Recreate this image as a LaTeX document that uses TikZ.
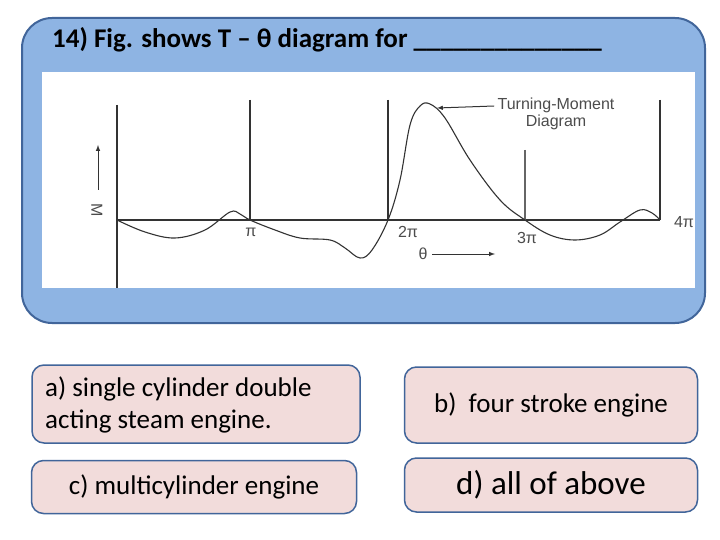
\documentclass[tikz,border=0pt]{standalone}
\usepackage{fontspec}
\setmainfont{Carlito}
\setsansfont{Liberation Sans}
\begin{document}
\begin{tikzpicture}[x=1pt,y=-1pt,
  opt/.style={draw=boxblue,line width=1.5pt,fill=optpink,rounded corners=12pt},
  vl/.style={line width=1.3pt,black!80},
  lab/.style={font=\sffamily\fontsize{16}{17}\selectfont,text=black!70}]
\definecolor{boxblue}{HTML}{41659A}
\definecolor{topblue}{HTML}{8EB4E3}
\definecolor{optpink}{HTML}{F2DCDB}
\useasboundingbox (0,0) rectangle (720,540);
\fill[white] (0,0) rectangle (720,540);
\draw[draw=boxblue,line width=2pt,fill=topblue,rounded corners=30pt] (22,18) rectangle (705,323);
\node[anchor=west,font=\bfseries\fontsize{27}{30}\selectfont,inner sep=0pt] (title) at (52,40) {14) Fig. shows T -- θ diagram for \_\_\_\_\_\_\_\_\_\_\_\_\_\_};
\fill[white] (42,72) rectangle (695,288);
% axes
\draw[vl] (117,105) -- (117,288);
\draw[vl] (117,220) -- (660,220);
\draw[vl] (250,100) -- (250,220);
\draw[vl] (388,100) -- (388,220);
\draw[vl,black!60] (525,150) -- (525,220);
\draw[vl] (660,100) -- (660,220);
\node[lab] (p1) at (251,232) {π};
\node[lab] (p2) at (408,232) {2π};
\node[lab] (p3) at (527,238) {3π};
\node[lab] (p4) at (684,222) {4π};
\coordinate (ma) at (98,190); \coordinate (mb) at (98,145);
\draw[-latex,line width=1pt,black!80] (ma) -- (mb);
\node[lab,rotate=-90] (M) at (97,210) {M};
\node[lab] (th) at (423,254) {θ};
\coordinate (tha) at (432,254); \coordinate (thb) at (495,254);
\draw[-latex,line width=1pt,black!80] (tha) -- (thb);
\node[lab,align=center] (tm) at (556,114) {Turning-Moment\\Diagram};
\coordinate (pk) at (437,108);
\draw[-latex,line width=1pt,black!80] (tm.west) ++(0,-8) -- (pk);
\draw[line width=1.1pt,black!80] plot[smooth,tension=0.6] coordinates {
 (117,220) (145,232) (175,238) (205,230) (230,212) (240,214) (250,220) (275,230) (300,238) (330,240)
 (345,248) (360,258) (372,250) (388,220) (400,180) (410,125) (420,106) (430,104) (445,118) (470,160)
 (500,200) (525,220) (550,235) (575,240) (600,235) (620,222) (640,210) (652,213) (660,220)};
% options
\node[opt,minimum width=328pt,minimum height=78pt] (a) at (196,404) {};
\node[anchor=west,align=left,font=\fontsize{27}{32}\selectfont,inner sep=0pt] (at) at (45,405) {a) single cylinder double\\acting steam engine.};
\node[opt,minimum width=293pt,minimum height=76pt,font=\fontsize{27}{30}\selectfont] (b) at (551,405) {b)\ \ four stroke engine};
\node[opt,minimum width=325pt,minimum height=53pt,font=\fontsize{27}{30}\selectfont] (c) at (194,487) {c) multicylinder engine};
\node[opt,minimum width=293pt,minimum height=54pt,font=\fontsize{33}{36}\selectfont] (d) at (551,485) {d) all of above};
\end{tikzpicture}
\end{document}
